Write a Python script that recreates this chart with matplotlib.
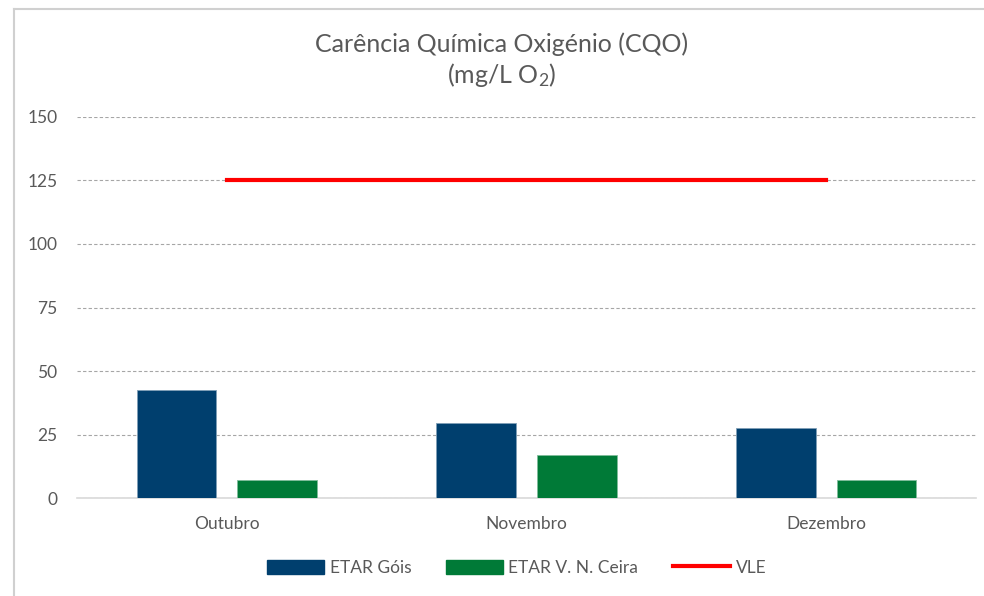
import numpy as np
from matplotlib import pyplot as plt
from matplotlib.lines import Line2D

months = ['Outubro', 'Novembro', 'Dezembro']
etar_gois = [42.5, 29.5, 27.6]
etar_ceira = [7.2, 16.9, 7.2]
vle = [125, 125, 125]

plt.rcParams['font.family'] = ['Lato', 'DejaVu Sans']
plt.rcParams['mathtext.fontset'] = 'custom'
plt.rcParams['mathtext.rm'] = 'Lato'
plt.rcParams['mathtext.default'] = 'rm'
grey = '#595959'

fig = plt.figure(figsize=(9.84, 5.96), dpi=100)
ax = fig.add_axes([0.078, 0.164, 0.914, 0.640])

x = np.arange(len(months))
w = 0.265
ax.bar(x - 0.168, etar_gois, w, color='#003F6E', edgecolor='#7f9fb7', linewidth=0.6,
       label='ETAR Góis', zorder=3)
ax.bar(x + 0.168, etar_ceira, w, color='#007A37', edgecolor='#7fbc9b', linewidth=0.6,
       label='ETAR V. N. Ceira', zorder=3)
ax.plot(x, vle, color='#FF0000', linewidth=3, label='VLE', zorder=4)

ax.set_xlim(-0.5, 2.5)
ax.set_ylim(0, 150)
ax.set_yticks(range(0, 151, 25))
ax.set_xticks(x)
ax.set_xticklabels(months)
ax.tick_params(colors=grey, labelsize=12.5, length=0)
ax.tick_params(axis='x', pad=13)
ax.tick_params(axis='y', pad=14)
ax.grid(axis='y', color='#a6a6a6', linestyle=(0, (3, 2)), linewidth=0.8, zorder=0)
for s in ['top', 'right', 'left']:
    ax.spines[s].set_visible(False)
ax.spines['bottom'].set_color('#d9d9d9')
ax.spines['bottom'].set_linewidth(1.2)

fig.text(0.51, 0.898, 'Carência Química Oxigénio (CQO)\n(mg/L O$_2$)', ha='center',
         va='center', fontsize=18, color=grey, linespacing=1.25)

handles = [plt.Rectangle((0, 0), 1, 1, color='#003F6E'),
           plt.Rectangle((0, 0), 1, 1, color='#007A37'),
           Line2D([0], [0], color='#FF0000', linewidth=3)]
fig.legend(handles, ['ETAR Góis', 'ETAR V. N. Ceira', 'VLE'], loc='center',
           bbox_to_anchor=(0.525, 0.047), ncol=3, frameon=False, fontsize=12.5,
           labelcolor=grey, handlelength=3.3, handleheight=0.9, columnspacing=2.0,
           handletextpad=0.3)

# chart frame
fig.add_artist(Line2D([0.014, 1], [0.985, 0.985], color='#d0d0d0', linewidth=1.5,
                      transform=fig.transFigure))
fig.add_artist(Line2D([0.014, 0.014], [0, 0.985], color='#d0d0d0', linewidth=1.5,
                      transform=fig.transFigure))

fig.savefig('out.png', dpi=100)
